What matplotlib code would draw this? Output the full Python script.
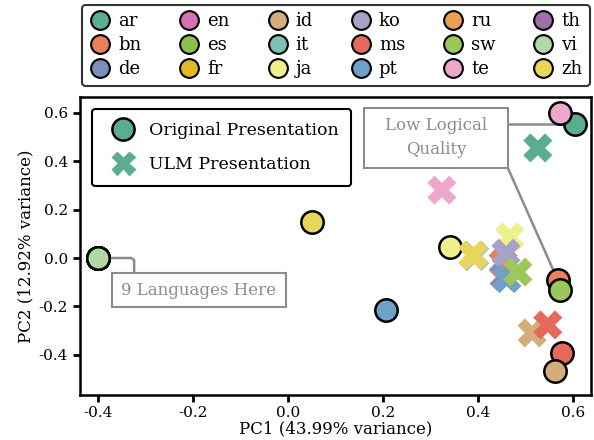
import matplotlib
matplotlib.use("Agg")
import matplotlib.pyplot as plt
from matplotlib.lines import Line2D
from matplotlib.patches import Rectangle

plt.rcParams['font.family'] = ['DejaVu Serif']

languages = ["ar", "bn", "de", "en", "es", "fr", "id", "it", "ja",
             "ko", "ms", "pt", "ru", "sw", "te", "th", "vi", "zh"]
colors = {
    "ar": "#5aad8f", "bn": "#e8805a", "de": "#7b8fba", "en": "#d672b2",
    "es": "#8cc04c", "fr": "#e0b92a", "id": "#d4ae7a", "it": "#7cc2b4",
    "ja": "#eef08c", "ko": "#a7a3c8", "ms": "#e56a5c", "pt": "#6fa0c8",
    "ru": "#e9a052", "sw": "#9cc75a", "te": "#eea8cc", "th": "#a06fa8",
    "vi": "#b0d8a8", "zh": "#e8d65a",
}

# PCA coordinates of the original presentation
orig_pc1 = {"ar": 0.604, "bn": 0.568, "de": -0.40, "en": -0.40, "es": -0.40,
            "fr": -0.40, "id": 0.562, "it": -0.40, "ja": 0.341, "ko": -0.40,
            "ms": 0.577, "pt": 0.206, "ru": -0.40, "sw": 0.573, "te": 0.573,
            "th": -0.40, "vi": -0.40, "zh": 0.051}
orig_pc2 = {"ar": 0.553, "bn": -0.091, "de": 0.0, "en": 0.0, "es": 0.0,
            "fr": 0.0, "id": -0.466, "it": 0.0, "ja": 0.045, "ko": 0.0,
            "ms": -0.392, "pt": -0.214, "ru": 0.0, "sw": -0.132, "te": 0.598,
            "th": 0.0, "vi": 0.0, "zh": 0.148}

# PCA coordinates of the ULM presentation
ulm_pc1 = {"ar": 0.526, "bn": 0.453, "de": 0.455, "en": 0.392, "es": 0.392,
           "fr": 0.392, "id": 0.514, "it": 0.392, "ja": 0.467, "ko": 0.459,
           "ms": 0.547, "pt": 0.461, "ru": 0.392, "sw": 0.484, "te": 0.324,
           "th": 0.392, "vi": 0.392, "zh": 0.389}
ulm_pc2 = {"ar": 0.454, "bn": -0.020, "de": -0.075, "en": 0.008, "es": 0.008,
           "fr": 0.008, "id": -0.309, "it": 0.008, "ja": 0.087, "ko": 0.020,
           "ms": -0.276, "pt": -0.085, "ru": 0.008, "sw": -0.058, "te": 0.280,
           "th": 0.008, "vi": 0.008, "zh": 0.012}

orig_order = ["de", "en", "es", "fr", "it", "ko", "ru", "th", "vi",
              "ar", "te", "bn", "sw", "ms", "id", "pt", "ja", "zh"]

GRAY = "#8c8c8c"

fig = plt.figure(figsize=(5.94, 4.4), dpi=100)
ax = fig.add_axes([80/594, 1 - 395/440, 511/594, 298/440])

for i, lang in enumerate(orig_order):
    ax.scatter(orig_pc1[lang], orig_pc2[lang], s=260, color=colors[lang],
               edgecolor="black", linewidth=1.8, zorder=3 + i * 0.01)
for i, lang in enumerate(languages):
    ax.scatter(ulm_pc1[lang], ulm_pc2[lang], s=440, marker="X",
               color=colors[lang], edgecolor="none", zorder=4 + i * 0.01)

ax.set_xlim(-0.438, 0.638)
ax.set_ylim(-0.565, 0.664)
ticks = [-0.4, -0.2, 0.0, 0.2, 0.4, 0.6]
ax.set_xticks(ticks)
ax.set_yticks(ticks)
ax.set_xticklabels([f"{t:.1f}" for t in ticks])
ax.set_yticklabels([f"{t:.1f}" for t in ticks])
ax.tick_params(direction="out", length=5, width=2, labelsize=11)
ax.tick_params(axis="x", pad=3)
for sp in ax.spines.values():
    sp.set_linewidth(1.8)
ax.set_xlabel("PC1 (43.99% variance)", fontsize=12, labelpad=0)
ax.set_ylabel("PC2 (12.92% variance)", fontsize=12, labelpad=3)

# marker-type legend inside the axes
type_handles = [
    Line2D([], [], marker="o", linestyle="none", markersize=16,
           markerfacecolor=colors["ar"], markeredgecolor="black", markeredgewidth=1.8),
    Line2D([], [], marker="X", linestyle="none", markersize=18,
           markerfacecolor=colors["ar"], markeredgecolor="none"),
]
leg1 = ax.legend(type_handles, ["Original Presentation", "ULM Presentation"],
                 loc="upper left", bbox_to_anchor=(0.024, 0.96), fontsize=12.5,
                 frameon=True, fancybox=True, edgecolor="black", framealpha=1,
                 handletextpad=0.5, borderpad=0.75, labelspacing=1.0,
                 borderaxespad=0)
leg1.get_frame().set_linewidth(1.5)
leg1.set_zorder(10)

# language legend above the axes
lang_handles = [Line2D([], [], marker="o", linestyle="none", markersize=13.5,
                       markerfacecolor=colors[l], markeredgecolor="black",
                       markeredgewidth=1.5) for l in languages]
leg2 = fig.legend(lang_handles, languages, ncol=6, loc="upper left",
                  bbox_to_anchor=(82/594, 1 - 5/440, 508/594, 0), mode="expand",
                  fontsize=13, frameon=True, fancybox=True, edgecolor="black",
                  handletextpad=0.4, labelspacing=0.34, borderpad=0.4,
                  borderaxespad=0, handlelength=1.2)
leg2.get_frame().set_linewidth(1.5)

# annotation boxes and their leader lines
line_kw = dict(color=GRAY, lw=1.8, zorder=2, solid_capstyle="butt")
ax.add_patch(Rectangle((-0.371, -0.202), 0.367, 0.140, facecolor="white",
                       edgecolor=GRAY, lw=1.5, zorder=8))
ax.text(-0.1875, -0.134, "9 Languages Here", fontsize=12, color=GRAY,
        ha="center", va="center", zorder=9)
ax.plot([orig_pc1["vi"], -0.33, -0.324, -0.324],
        [orig_pc2["vi"], 0.0, -0.008, -0.062], **line_kw)

ax.add_patch(Rectangle((0.160, 0.371), 0.303, 0.248, facecolor="white",
                       edgecolor=GRAY, lw=1.5, zorder=8))
ax.text(0.3115, 0.497, "Low Logical\nQuality", fontsize=12, color=GRAY,
        ha="center", va="center", linespacing=1.6, zorder=9)
ax.plot([0.463, orig_pc1["ar"]], [orig_pc2["ar"], orig_pc2["ar"]], **line_kw)
ax.plot([0.463, orig_pc1["bn"]], [0.371, orig_pc2["bn"]], **line_kw)

fig.savefig("out.png", dpi=100)
